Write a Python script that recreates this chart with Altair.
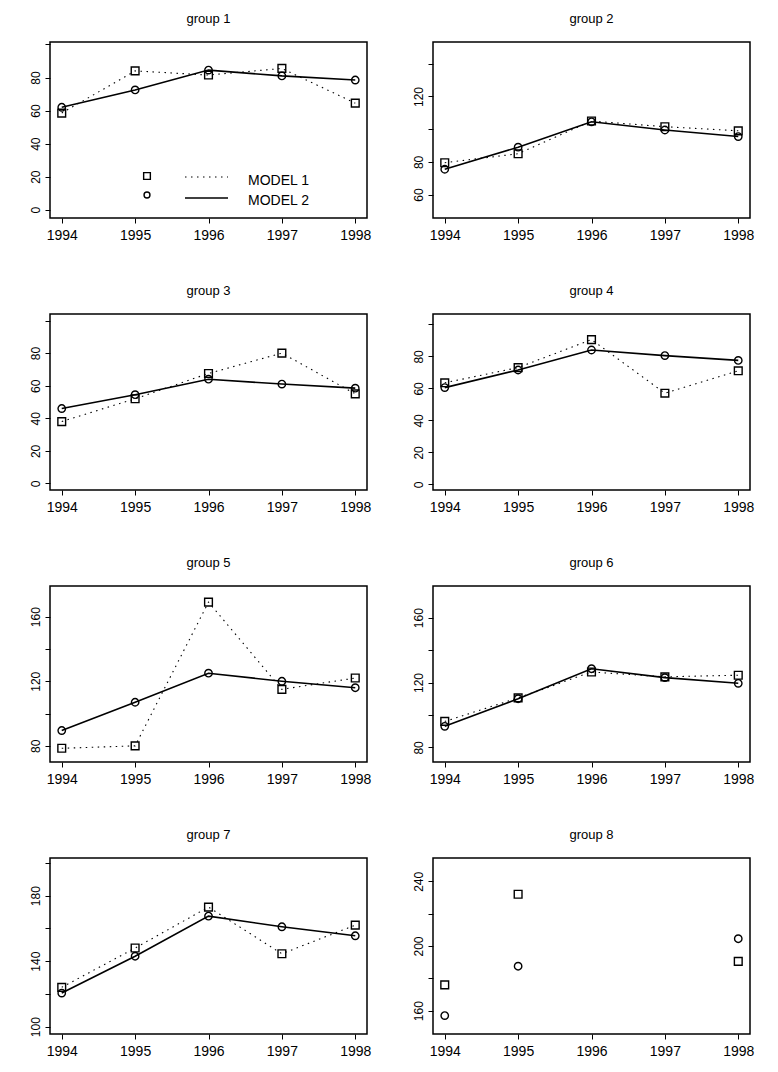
import altair as alt
import pandas as pd

YEARS = [1994, 1995, 1996, 1997, 1998]
MODELS = ["MODEL 1", "MODEL 2"]
TITLES = ["group 1", "group 2", "group 3", "group 4",
          "group 5", "group 6", "group 7", "group 8"]

# MODEL 1 (squares, dotted) and MODEL 2 (circles, solid) per group
G1_M1 = [58.5, 84.0, 81.5, 85.5, 64.5]
G1_M2 = [62.0, 72.5, 84.5, 81.0, 78.5]
G2_M1 = [79.5, 85.0, 105.0, 101.5, 99.0]
G2_M2 = [75.5, 89.0, 104.5, 99.5, 95.5]
G3_M1 = [38.0, 52.0, 67.5, 80.0, 55.0]
G3_M2 = [46.0, 54.5, 64.0, 61.0, 58.5]
G4_M1 = [63.5, 73.0, 90.5, 57.0, 71.0]
G4_M2 = [60.5, 71.5, 84.0, 80.5, 77.5]
G5_M1 = [78.5, 80.0, 169.0, 115.0, 122.0]
G5_M2 = [89.5, 107.0, 125.0, 120.0, 116.0]
G6_M1 = [96.0, 110.5, 126.5, 123.5, 124.5]
G6_M2 = [93.0, 110.0, 128.5, 123.0, 119.5]
G7_M1 = [124.0, 148.0, 173.0, 144.5, 162.0]
G7_M2 = [120.5, 143.0, 167.5, 161.0, 155.5]
G8_M1 = [176.0, 232.0, None, None, 190.5]
G8_M2 = [157.0, 187.5, None, None, 204.5]

M1 = [G1_M1, G2_M1, G3_M1, G4_M1, G5_M1, G6_M1, G7_M1, G8_M1]
M2 = [G1_M2, G2_M2, G3_M2, G4_M2, G5_M2, G6_M2, G7_M2, G8_M2]
DRAW_LINES = [True, True, True, True, True, True, True, False]

# y-axis ranges, ticks and which ticks carry a label
Y_DOMAINS = [[-5, 101.5], [45.7, 153.3], [-4, 104], [-3.5, 106.5],
             [70, 179], [71, 179.5], [95.5, 203], [145.6, 254.4]]
Y_TICKS = [[0, 20, 40, 60, 80, 100], [60, 80, 100, 120, 140],
           [0, 20, 40, 60, 80, 100], [0, 20, 40, 60, 80, 100],
           [80, 100, 120, 140, 160], [80, 100, 120, 140, 160],
           [100, 120, 140, 160, 180, 200], [160, 180, 200, 220, 240]]
Y_LABELED = [[0, 20, 40, 60, 80], [60, 80, 120], [0, 20, 40, 60, 80],
             [0, 20, 40, 60, 80], [80, 120, 160], [80, 120, 160],
             [100, 140, 180], [160, 200, 240]]
X_DOMAIN = [1993.84, 1998.16]

FONT = "Liberation Sans"
W, H = 317, 176


def panel(i):
    rows = []
    for yr, a, b in zip(YEARS, M1[i], M2[i]):
        if a is not None:
            rows.append({"year": yr, "model": MODELS[0], "value": a})
        if b is not None:
            rows.append({"year": yr, "model": MODELS[1], "value": b})
    df = pd.DataFrame(rows)

    labeled = ",".join(str(v) for v in Y_LABELED[i])
    x = alt.X("year:Q",
              scale=alt.Scale(domain=X_DOMAIN, nice=False, zero=False),
              axis=alt.Axis(values=YEARS, format="d", title=None,
                            labelFontSize=14, labelPadding=5))
    y = alt.Y("value:Q",
              scale=alt.Scale(domain=Y_DOMAINS[i], nice=False, zero=False),
              axis=alt.Axis(values=Y_TICKS[i], title=None, labelAngle=270,
                            labelFontSize=12, labelPadding=3,
                            labelExpr="indexof([" + labeled + "], datum.value) >= 0 ? datum.label : ''"))

    base = alt.Chart(df)
    layers = []
    if DRAW_LINES[i]:
        layers.append(base.transform_filter(alt.datum.model == MODELS[0])
                      .mark_line(color="black", strokeWidth=1.1, strokeDash=[1.5, 4.5])
                      .encode(x=x, y=y))
        layers.append(base.transform_filter(alt.datum.model == MODELS[1])
                      .mark_line(color="black", strokeWidth=1.6)
                      .encode(x=x, y=y))
    layers.append(base.transform_filter(alt.datum.model == MODELS[0])
                  .mark_point(shape="square", filled=False, color="black",
                              size=60, strokeWidth=1.4, opacity=1)
                  .encode(x=x, y=y))
    layers.append(base.transform_filter(alt.datum.model == MODELS[1])
                  .mark_point(shape="circle", filled=False, color="black",
                              size=55, strokeWidth=1.4, opacity=1)
                  .encode(x=x, y=y))

    if i == 0:
        lab1 = pd.DataFrame({"label": [MODELS[0]]})
        lab2 = pd.DataFrame({"label": [MODELS[1]]})
        layers.append(alt.Chart(lab1).mark_point(shape="square", filled=False, color="black",
                                                 size=45, strokeWidth=1.4, opacity=1)
                      .encode(x=alt.value(97), y=alt.value(134)))
        layers.append(alt.Chart(lab2).mark_point(shape="circle", filled=False, color="black",
                                                 size=35, strokeWidth=1.4, opacity=1)
                      .encode(x=alt.value(97), y=alt.value(153)))
        layers.append(alt.Chart(lab1).mark_rule(color="black", strokeWidth=1.1, strokeDash=[1.5, 4.5])
                      .encode(x=alt.value(135), x2=alt.value(178), y=alt.value(135)))
        layers.append(alt.Chart(lab2).mark_rule(color="black", strokeWidth=1.6)
                      .encode(x=alt.value(135), x2=alt.value(178), y=alt.value(156)))
        layers.append(alt.Chart(lab1).mark_text(align="left", baseline="middle", fontSize=14,
                                                font=FONT, color="black")
                      .encode(x=alt.value(198), y=alt.value(139), text="label:N"))
        layers.append(alt.Chart(lab2).mark_text(align="left", baseline="middle", fontSize=14,
                                                font=FONT, color="black")
                      .encode(x=alt.value(198), y=alt.value(159), text="label:N"))

    return alt.layer(*layers).properties(
        width=W, height=H,
        title=alt.TitleParams(TITLES[i], fontSize=13, fontWeight="normal", font=FONT,
                              color="black", offset=16, anchor="middle"))


panels = [panel(i) for i in range(8)]
chart = alt.concat(*panels, columns=2, spacing={"row": 96, "column": 66},
                   bounds="flush").properties(
    padding={"left": 20, "top": 4, "right": 10, "bottom": 10}
).configure_view(
    stroke="black", strokeWidth=1.5
).configure_axis(
    labelFont=FONT, labelColor="black", tickColor="black", tickSize=5,
    tickWidth=1, domain=False, grid=False
).configure_title(font=FONT)

chart.save("out.html", embed_options={"renderer": "svg", "actions": False})
